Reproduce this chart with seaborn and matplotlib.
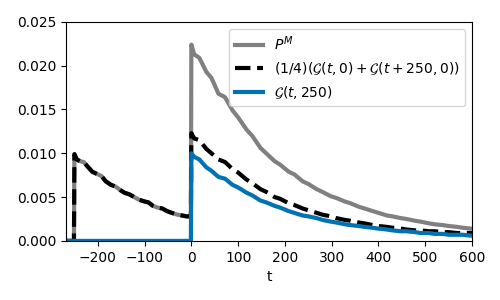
import numpy as np
import pandas as pd
import matplotlib
matplotlib.use("Agg")
import matplotlib.pyplot as plt
import seaborn as sns

# time grid before the jump at t=0 (shared by P^M and the dashed curve)
t_neg = [-268, -251, -250, -245, -238, -230, -222, -212, -200, -192, -183, -172,
         -162, -152, -143, -132, -122, -112, -100, -92, -82, -72, -62, -52,
         -42, -30, -20, -10, -1]
v_neg = [0.0, 0.0, 0.0099, 0.0093, 0.0091, 0.0090, 0.0085, 0.0079, 0.0076, 0.0074,
         0.0068, 0.0064, 0.0062, 0.0058, 0.0055, 0.0053, 0.0050, 0.0047, 0.0045,
         0.0044, 0.0040, 0.0038, 0.0037, 0.0034, 0.0032, 0.0030, 0.0029, 0.0028,
         0.0028]

# time grid after t=0
t_pos = [0, 6, 17, 32, 43, 58, 72, 88, 100, 118, 130, 148, 160, 178, 190, 208,
         220, 238, 250, 268, 280, 298, 310, 328, 340, 358, 370, 388, 400, 418,
         430, 448, 460, 478, 490, 508, 520, 538, 550, 568, 580, 598, 600]
pm_pos = [0.0224, 0.0213, 0.0209, 0.0193, 0.0186, 0.0168, 0.0164, 0.0149, 0.0141,
          0.0127, 0.0120, 0.0106, 0.0100, 0.0091, 0.0087, 0.0079, 0.0076, 0.0068,
          0.0065, 0.0059, 0.0056, 0.0051, 0.0049, 0.0045, 0.0043, 0.0039, 0.0037,
          0.0034, 0.0032, 0.0029, 0.0028, 0.0026, 0.0025, 0.0023, 0.0022, 0.0020,
          0.0019, 0.0018, 0.0017, 0.0016, 0.0015, 0.0014, 0.0014]
avg_pos = [0.0123, 0.0117, 0.0115, 0.0105, 0.0100, 0.0093, 0.0090, 0.0082, 0.0078,
           0.0070, 0.0066, 0.0059, 0.0056, 0.0050, 0.0048, 0.0043, 0.0041, 0.0037,
           0.0035, 0.0032, 0.0030, 0.0028, 0.0026, 0.0024, 0.0023, 0.0021, 0.0020,
           0.0018, 0.0017, 0.0016, 0.0015, 0.0014, 0.0013, 0.0012, 0.0012, 0.0011,
           0.0011, 0.0010, 0.0010, 0.0009, 0.0009, 0.0009, 0.0008]
g_pos = [0.0100, 0.0096, 0.0093, 0.0084, 0.0080, 0.0073, 0.0071, 0.0064, 0.0061,
         0.0055, 0.0052, 0.0046, 0.0044, 0.0040, 0.0038, 0.0034, 0.0032, 0.0029,
         0.0028, 0.0026, 0.0024, 0.0022, 0.0021, 0.0019, 0.0018, 0.0017, 0.0016,
         0.0015, 0.0014, 0.0013, 0.0012, 0.0011, 0.0011, 0.0010, 0.0009, 0.0009,
         0.0008, 0.0008, 0.0007, 0.0007, 0.0007, 0.0006, 0.0006]
g_neg = [0.0] * len(t_neg)

labels = [r"$P^M$",
          r"$(1/4)(\mathcal{G}(t,0)+\mathcal{G}(t+250,0))$",
          r"$\mathcal{G}(t,250)$"]
colors = ["#808080", "black", "#0173b2"]
styles = ["-", "--", "-"]

t_all = t_neg + t_pos
series = [v_neg + pm_pos, v_neg + avg_pos, g_neg + g_pos]

fig = plt.figure(figsize=(5, 3), dpi=100)
ax = fig.add_axes([0.132, 0.197, 0.812, 0.730])

for lab, vals, c, ls in zip(labels, series, colors, styles):
    df = pd.DataFrame({"t": t_all, "v": vals})
    sns.lineplot(data=df, x="t", y="v", ax=ax, color=c, linestyle=ls, lw=3,
                 label=lab, sort=False, estimator=None)

ax.set_xlim(-268, 600)
ax.set_ylim(0, 0.025)
ax.set_xticks([-200, -100, 0, 100, 200, 300, 400, 500, 600])
ax.set_yticks([0.0, 0.005, 0.010, 0.015, 0.020, 0.025])
ax.yaxis.set_major_formatter(matplotlib.ticker.FormatStrFormatter("%.3f"))
ax.set_xlabel("t")
ax.set_ylabel("")
ax.legend(loc="upper right")

fig.savefig("out.png", dpi=100)
